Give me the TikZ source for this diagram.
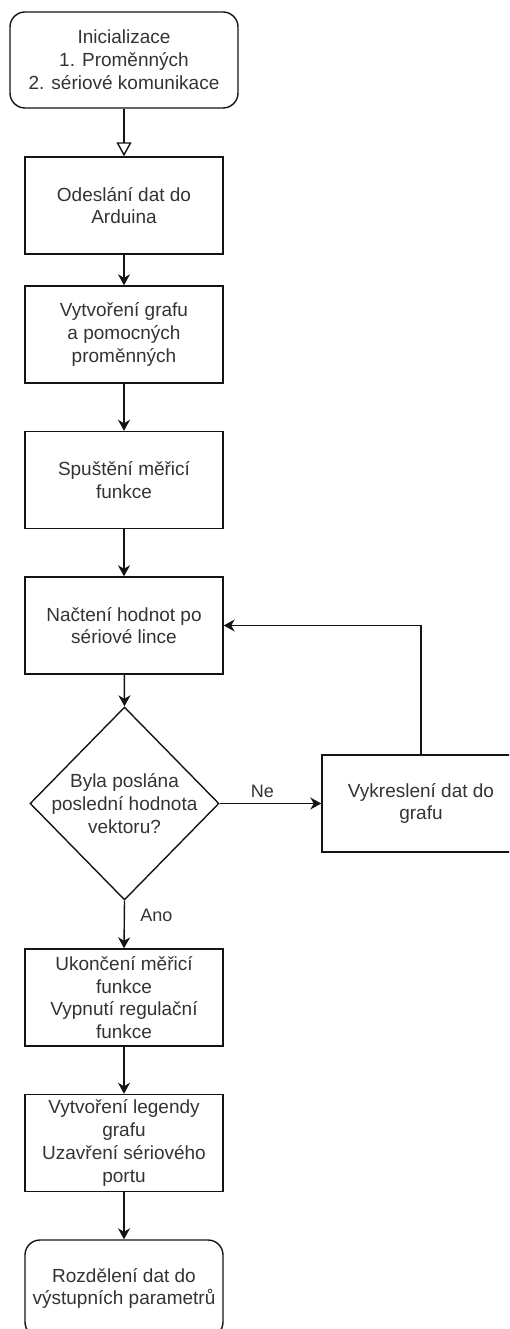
\documentclass[tikz,border=0pt]{standalone}
\usepackage{fontspec}
\setmainfont{Liberation Sans}
\usetikzlibrary{arrows.meta,shapes.geometric}
\definecolor{txtc}{RGB}{51,51,51}
\definecolor{linec}{RGB}{20,20,20}
\begin{document}
\begin{tikzpicture}[x=1pt,y=-1pt,
  every node/.style={font=\fontsize{19}{22.8}\selectfont, text=txtc, align=center},
  box/.style={draw=linec, line width=1.4pt, rectangle, inner sep=0pt, minimum width=198pt, minimum height=97pt},
  rbox/.style={box, rounded corners=15pt},
  dia/.style={draw=linec, line width=1.4pt, diamond, inner sep=0pt, minimum width=189pt, minimum height=193pt},
  conn/.style={draw=linec, line width=1.4pt, -{Stealth[length=11pt,width=12pt,inset=3.5pt]}},
  openconn/.style={draw=linec, line width=1.4pt, -{Triangle[open,length=14pt,width=15pt]}},
  lbl/.style={font=\fontsize{18}{21}\selectfont}
]
\useasboundingbox (0,0) rectangle (509,1329);
\clip (0,0) rectangle (509,1329);

\node[rbox, minimum width=228pt, minimum height=96pt] (init) at (124,60) {Inicializace\\1. Proměnných\\2. sériové komunikace};
\node[box] (odes) at (124,205.5) {Odeslání dat do\\Arduina};
\node[box] (vytv) at (124,334.5) {Vytvoření grafu\\a pomocných\\proměnných};
\node[box] (spus) at (124,480) {Spuštění měřicí\\funkce};
\node[box] (nact) at (124,625.5) {Načtení hodnot po\\sériové lince};
\node[dia] (dec) at (124.5,803.5) {};
\node (dectxt) at (dec.center) {Byla poslána\\poslední hodnota\\vektoru?};
\node[box] (vykr) at (421,803.5) {Vykreslení dat do\\grafu};
\node[box] (ukon) at (124,997.5) {Ukončení měřicí\\funkce\\Vypnutí regulační\\funkce};
\node[box] (lege) at (124,1143) {Vytvoření legendy\\grafu\\Uzavření sériového\\portu};
\node[rbox] (rozd) at (124,1288.5) {Rozdělení dat do\\výstupních parametrů};

\draw[openconn] (init) -- (odes);
\draw[conn] (odes) -- (vytv);
\draw[conn] (vytv) -- (spus);
\draw[conn] (spus) -- (nact);
\draw[conn] (nact) -- (dec.north);
\draw[conn] (dec.east) -- node[lbl, above=2pt, pos=0.42] (ne) {Ne} (vykr.west);
\draw[conn] (vykr.north) |- (nact.east);
\draw[conn] (dec.south) -- node[lbl, right=12pt, pos=0.3] (ano) {Ano} (ukon.north);
\draw[conn] (ukon) -- (lege);
\draw[conn] (lege) -- (rozd);
\end{tikzpicture}
\end{document}
